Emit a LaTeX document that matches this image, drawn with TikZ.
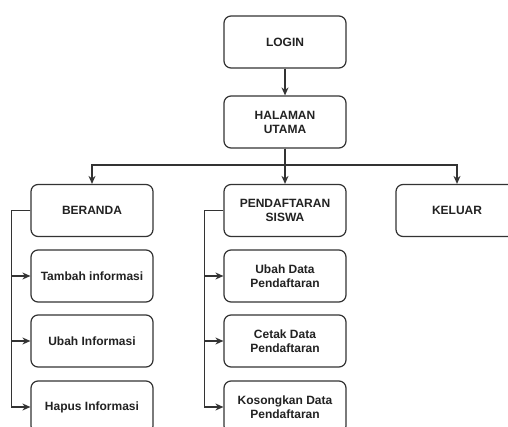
\documentclass[tikz,border=0pt]{standalone}
\usepackage{fontspec}
\setmainfont{Liberation Sans}
\usetikzlibrary{arrows.meta}
\definecolor{edge}{HTML}{333333}
\definecolor{txt}{HTML}{222222}
\begin{document}
\begin{tikzpicture}[x=1pt,y=-1pt,
  box/.style={draw=edge,line width=1.2pt,rounded corners=7pt,minimum width=122pt,minimum height=52pt,
    align=center,inner sep=0pt,text=txt,font=\fontsize{12}{14}\selectfont\bfseries},
  conn/.style={draw=edge,line width=1.2pt,-{Stealth[length=8pt,width=7pt]}}]
\useasboundingbox (0,0) rectangle (508,427);
\clip (0,0) rectangle (508,427);
\fill[white] (0,0) rectangle (508,427);
\node[box] (login) at (285,42) {LOGIN};
\node[box] (hal) at (285,122) {HALAMAN\\UTAMA};
\node[box] (ber) at (92,210.5) {BERANDA};
\node[box] (tam) at (92,276) {Tambah informasi};
\node[box] (ubi) at (92,341) {Ubah Informasi};
\node[box] (hap) at (92,407) {Hapus Informasi};
\node[box] (pen) at (285,210.5) {PENDAFTARAN\\SISWA};
\node[box] (ubd) at (285,276) {Ubah Data\\Pendaftaran};
\node[box] (cet) at (285,341) {Cetak Data\\Pendaftaran};
\node[box] (kos) at (285,407) {Kosongkan Data\\Pendaftaran};
\node[box] (kel) at (457,210.5) {KELUAR};
\draw[conn] (login) -- (hal);
\draw[conn] (hal.south) -- ++(0,16.5) -| (ber.north);
\draw[conn] (hal.south) -- (pen.north);
\draw[conn] (hal.south) -- ++(0,16.5) -| (kel.north);
\draw[conn] (ber.west) -- ++(-19,0) |- (tam.west);
\draw[conn] (ber.west) -- ++(-19,0) |- (ubi.west);
\draw[conn] (ber.west) -- ++(-19,0) |- (hap.west);
\draw[conn] (pen.west) -- ++(-19,0) |- (ubd.west);
\draw[conn] (pen.west) -- ++(-19,0) |- (cet.west);
\draw[conn] (pen.west) -- ++(-19,0) |- (kos.west);
\end{tikzpicture}
\end{document}
